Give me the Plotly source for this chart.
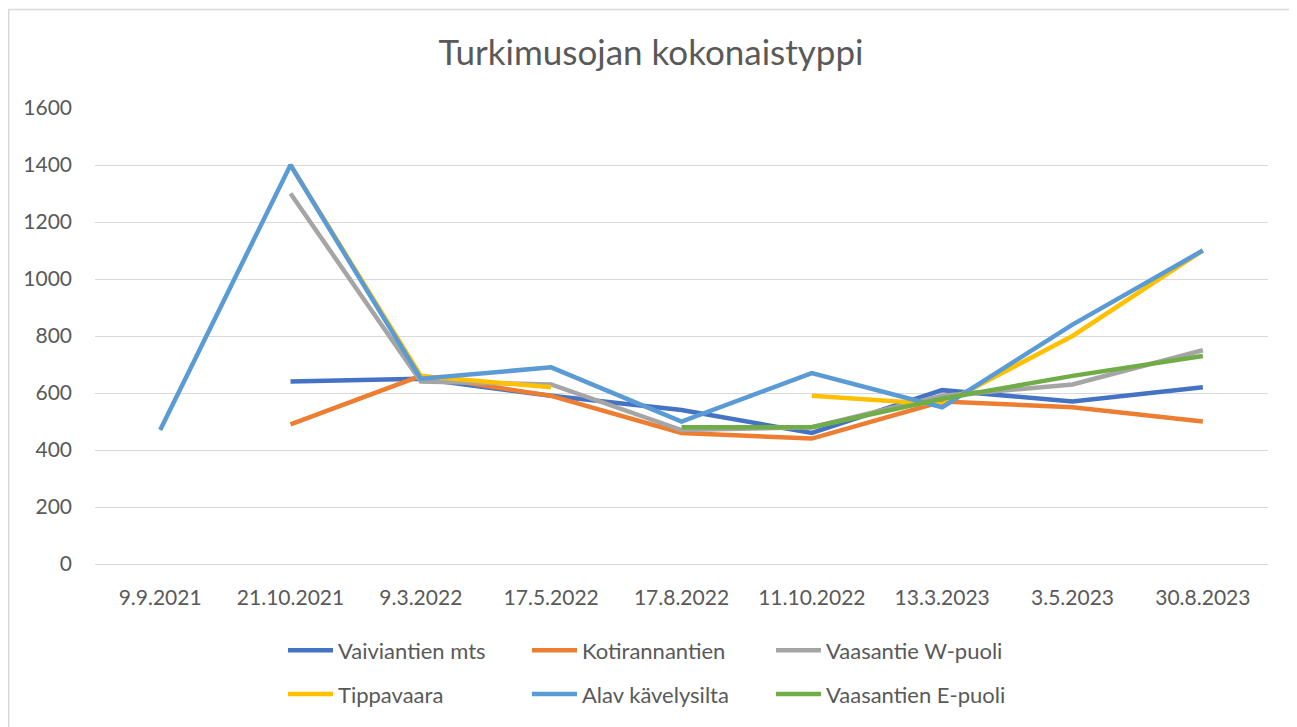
import plotly.graph_objects as go

categories = ["9.9.2021", "21.10.2021", "9.3.2022", "17.5.2022", "17.8.2022",
              "11.10.2022", "13.3.2023", "3.5.2023", "30.8.2023"]

vaiviantien_mts = [None, 640, 650, 590, 540, 460, 610, 570, 620]
kotirannantien = [None, 490, 660, 590, 460, 440, 570, 550, 500]
vaasantie_w_puoli = [None, 1300, 640, 630, 470, 480, 590, 630, 750]
tippavaara = [None, 1400, 660, 620, None, 590, 560, 800, 1100]
alav_kavelysilta = [470, 1400, 650, 690, 500, 670, 550, 840, 1100]
vaasantien_e_puoli = [None, None, None, None, 480, 480, 580, 660, 730]

y_ticks = [0, 200, 400, 600, 800, 1000, 1200, 1400, 1600]

series = [
    ("Vaiviantien mts", vaiviantien_mts, "#4472C4", "legend"),
    ("Kotirannantien", kotirannantien, "#ED7D31", "legend"),
    ("Vaasantie W-puoli", vaasantie_w_puoli, "#A5A5A5", "legend"),
    ("Tippavaara", tippavaara, "#FFC000", "legend2"),
    ("Alav kävelysilta", alav_kavelysilta, "#5B9BD5", "legend2"),
    ("Vaasantien E-puoli", vaasantien_e_puoli, "#70AD47", "legend2"),
]

FONT = "Lato, 'Open Sans', sans-serif"
TXT = "#595959"

fig = go.Figure()
for name, vals, color, leg in series:
    fig.add_trace(go.Scatter(
        x=categories, y=vals, name=name, mode="lines",
        line=dict(color=color, width=4.5),
        connectgaps=False, legend=leg,
    ))

# page body adds an 8px offset; figure sized so it fills the window
OFF = 8
W, H = 1297 - OFF, 727 - OFF
# target plot area in window pixels: x 95..1268, y 108..567
L, R = 95 - OFF, (1297 - OFF) - (1268 - OFF)
T, B = 108 - OFF, (727 - OFF) - (567 - OFF)
pw, ph = W - L - R, H - T - B


def px(xw):
    return (xw - OFF - L) / pw


def py(yw):
    return (H - B - (yw - OFF)) / ph


legend_common = dict(
    orientation="h", xanchor="left", yanchor="middle",
    font=dict(family=FONT, size=22, color=TXT),
    entrywidth=184, entrywidthmode="pixels",
    bgcolor="rgba(0,0,0,0)", tracegroupgap=0, itemwidth=45,
)

fig.update_layout(
    width=W, height=H,
    margin=dict(l=L, r=R, t=T, b=B),
    paper_bgcolor="white", plot_bgcolor="white",
    title=dict(text="Turkimusojan kokonaistyppi", x=(651 - OFF) / W, xanchor="center",
               y=1 - (53 - OFF) / H, yanchor="middle",
               font=dict(family=FONT, size=35, color=TXT)),
    xaxis=dict(
        type="category", categoryorder="array", categoryarray=categories,
        range=[-0.5, len(categories) - 0.5],
        showgrid=False, showline=False, zeroline=False, ticks="",
        tickfont=dict(family=FONT, size=21, color=TXT),
        ticklabelstandoff=19,
    ),
    yaxis=dict(
        range=[0, 1600], tickvals=y_ticks,
        showgrid=True, gridcolor="#D9D9D9", gridwidth=1,
        zeroline=True, zerolinecolor="#D9D9D9", zerolinewidth=1,
        showline=False, ticks="",
        tickfont=dict(family=FONT, size=21, color=TXT),
        ticklabelstandoff=22,
    ),
    legend=dict(x=px(283), y=py(654), **legend_common),
    legend2=dict(x=px(283), y=py(698), **legend_common),
    showlegend=True,
    shapes=[dict(type="rect", xref="paper", yref="paper",
                 x0=px(OFF + 0.75), x1=px(1296), y0=py(740), y1=py(OFF + 0.75),
                 line=dict(color="#D9D9D9", width=1.5), layer="below")],
)

fig.write_html("out.html")
